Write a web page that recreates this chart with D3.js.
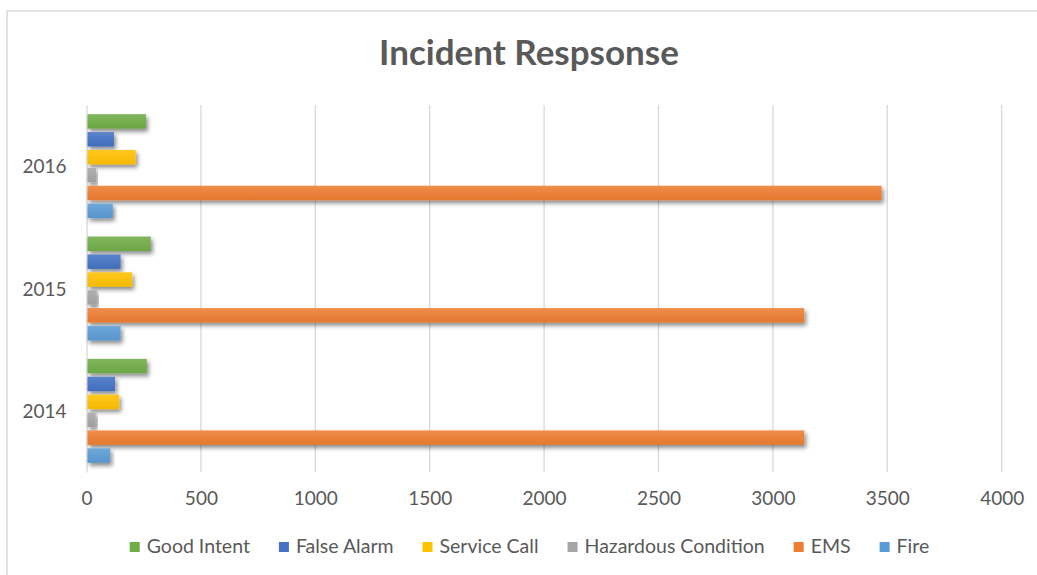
<!DOCTYPE html>
<html><head><meta charset="utf-8">
<script src="https://cdn.jsdelivr.net/npm/d3@7"></script>
<style>body{margin:0;background:#fff}svg{display:block}text{font-family:Lato,"Open Sans",sans-serif;fill:#595959}</style>
</head><body><svg id="c" width="1037" height="575"></svg>
<script>
const years = ["2016","2015","2014"];
const seriesNames = ["Good Intent","False Alarm","Service Call","Hazardous Condition","EMS","Fire"];
const seriesColors = ["#70AD47","#4472C4","#FFC000","#A5A5A5","#ED7D31","#5B9BD5"];
const goodIntent = [260, 281, 264];
const falseAlarm = [120, 149, 125];
const serviceCall = [215, 200, 143];
const hazardous = [42, 45, 40];
const ems = [3475, 3137, 3137];
const fire = [115, 149, 104];
const xTicks = [0,500,1000,1500,2000,2500,3000,3500,4000];
const seriesValues = [goodIntent, falseAlarm, serviceCall, hazardous, ems, fire];

const svg = d3.select("#c");
const m = {left: 86.5, right: 1001.7, top: 105, bottom: 472};

svg.append("rect").attr("x",7).attr("y",11).attr("width",1100).attr("height",700)
  .attr("fill","#fff").attr("stroke","#d9d9d9").attr("stroke-width",1.5);

const defs = svg.append("defs");
const f = defs.append("filter").attr("id","sh").attr("x","-10%").attr("y","-30%").attr("width","130%").attr("height","200%");
f.append("feDropShadow").attr("dx",2).attr("dy",3).attr("stdDeviation",2).attr("flood-color","#000").attr("flood-opacity",0.45);
seriesColors.forEach((c,i)=>{
  const g = defs.append("linearGradient").attr("id","g"+i).attr("x1",0).attr("x2",0).attr("y1",0).attr("y2",1);
  g.append("stop").attr("offset","0%").attr("stop-color",d3.interpolateRgb(c,"#fff")(0.12));
  g.append("stop").attr("offset","100%").attr("stop-color",d3.interpolateRgb(c,"#000")(0.04));
});

const x = d3.scaleLinear().domain([0,4000]).range([m.left, m.right]);
const y0 = d3.scaleBand().domain(years).range([m.top, m.bottom]).paddingInner(0.15).paddingOuter(0.075);
const y1 = d3.scaleBand().domain(seriesNames).range([0, y0.bandwidth()]).paddingInner(0.19);

// title
svg.append("text").attr("x",529).attr("y",65).attr("text-anchor","middle")
  .style("font-size","35px").style("font-weight","700").text("Incident Respsonse");

// gridlines
svg.append("g").selectAll("line").data(xTicks.slice(1)).join("line")
  .attr("x1",d=>x(d)).attr("x2",d=>x(d)).attr("y1",m.top).attr("y2",m.bottom)
  .attr("stroke","#d9d9d9").attr("stroke-width",1.3);

// x axis labels
const xAxis = d3.axisBottom(x).tickValues(xTicks).tickFormat(d3.format("d")).tickSize(0).tickPadding(0);
const xg = svg.append("g").attr("transform",`translate(0,${m.bottom})`).call(xAxis);
xg.select(".domain").remove();
xg.selectAll("text").attr("y",33).attr("dy",0).style("font-size","19px").style("font-family","Lato").attr("fill","#595959");

// y axis
const yAxis = d3.axisLeft(d3.scaleBand().domain(years).range([m.top, m.bottom])).tickSize(0).tickPadding(20);
const yg = svg.append("g").attr("transform",`translate(${m.left},0)`).call(yAxis);
yg.select(".domain").attr("stroke","#d9d9d9").attr("stroke-width",1.3);
yg.selectAll("text").attr("dy","0.38em").style("font-size","19px").style("font-family","Lato").attr("fill","#595959");

// bars
const groups = svg.append("g").selectAll("g").data(years).join("g")
  .attr("transform",d=>`translate(0,${y0(d)})`);
groups.selectAll("rect").data((yr,yi)=>seriesNames.map((s,si)=>({s,si,v:seriesValues[si][yi]})))
  .join("rect")
  .attr("x",x(0)+1).attr("y",d=>y1(d.s)).attr("height",y1.bandwidth())
  .attr("width",d=>x(d.v)-x(0)-1)
  .attr("fill",d=>`url(#g${d.si})`).attr("filter","url(#sh)");

// legend
const leg = svg.append("g");
const items = leg.selectAll("g").data(seriesNames).join("g");
items.append("rect").attr("width",10).attr("height",10).attr("y",-11).attr("fill",(d,i)=>seriesColors[i]);
items.append("text").attr("x",17).attr("y",0).style("font-size","19.5px").text(d=>d);
let cx = 0; const pos = [];
items.each(function(d){ const w = 17 + this.querySelector("text").getComputedTextLength(); pos.push(cx); cx += w + 29; });
const total = cx - 29;
items.attr("transform",(d,i)=>`translate(${529.5 - total/2 + pos[i]},553)`);
</script></body></html>
